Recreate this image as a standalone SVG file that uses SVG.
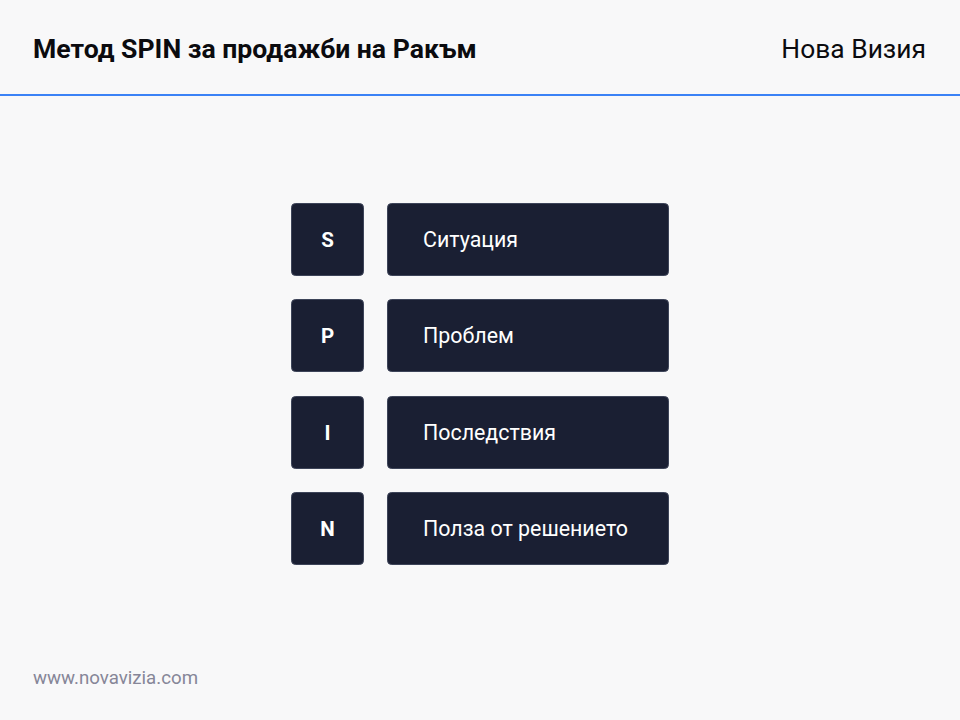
<svg xmlns="http://www.w3.org/2000/svg" width="960" height="720" viewBox="0 0 960 720">
<style>
.bg{fill:#f8f8f9}
.t{font-family:Roboto,"Liberation Sans",sans-serif;fill:#0b0b0f}
.box{fill:#1a1f33;stroke:#3d4459;stroke-width:1}
.let{font-family:Roboto,"Liberation Sans",sans-serif;font-weight:700;font-size:20.5px;fill:#ffffff;text-anchor:middle}
.lab{font-family:Roboto,"Liberation Sans",sans-serif;font-size:21.4px;fill:#ffffff}
</style>
<rect class="bg" x="0" y="0" width="960" height="720"/>
<text class="t" x="33" y="58" font-size="26.6" font-weight="700">Метод SPIN за продажби на Ракъм</text>
<text class="t" x="926" y="58" font-size="26.4" text-anchor="end">Нова Визия</text>
<line x1="0" y1="95" x2="960" y2="95" stroke="#3b82f6" stroke-width="2"/>
<g id="row-s">
<rect class="box" x="291.5" y="203.5" width="72" height="72" rx="4"/>
<text class="let" x="327.5" y="246.5">S</text>
<rect class="box" x="387.5" y="203.5" width="281" height="72" rx="4"/>
<text class="lab" x="423" y="246.5">Ситуация</text>
</g>
<g id="row-p">
<rect class="box" x="291.5" y="299.5" width="72" height="72" rx="4"/>
<text class="let" x="327.5" y="342.5">P</text>
<rect class="box" x="387.5" y="299.5" width="281" height="72" rx="4"/>
<text class="lab" x="423" y="342.5">Проблем</text>
</g>
<g id="row-i">
<rect class="box" x="291.5" y="396.5" width="72" height="72" rx="4"/>
<text class="let" x="327.5" y="439.5">I</text>
<rect class="box" x="387.5" y="396.5" width="281" height="72" rx="4"/>
<text class="lab" x="423" y="439.5">Последствия</text>
</g>
<g id="row-n">
<rect class="box" x="291.5" y="492.5" width="72" height="72" rx="4"/>
<text class="let" x="327.5" y="535.5">N</text>
<rect class="box" x="387.5" y="492.5" width="281" height="72" rx="4"/>
<text class="lab" x="423" y="535.5">Полза от решението</text>
</g>
<g id="connectors"></g>
<text x="33" y="684" font-family="Roboto,'Liberation Sans',sans-serif" font-size="18.7" fill="#868698">www.novavizia.com</text>
</svg>
